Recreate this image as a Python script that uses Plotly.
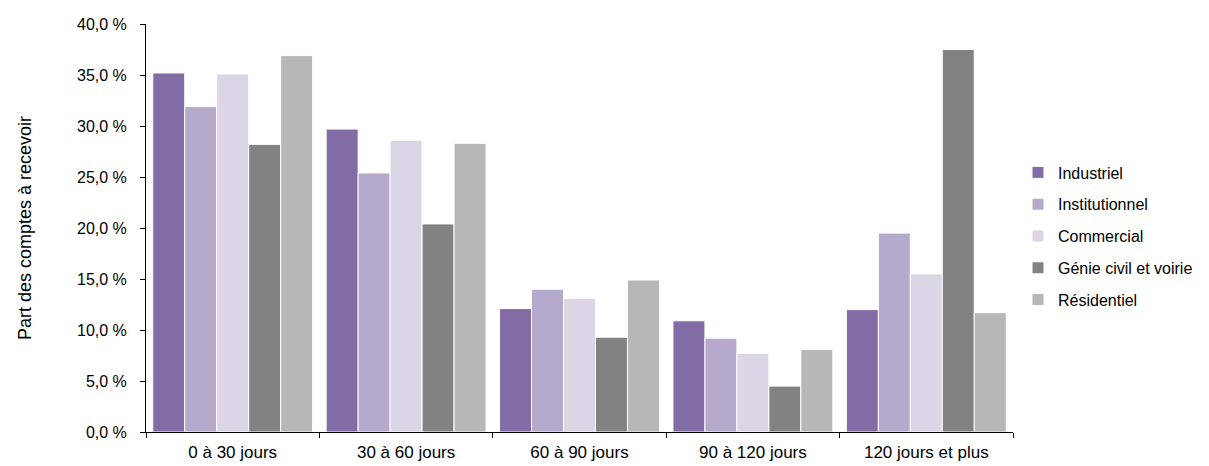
import plotly.graph_objects as go

categories = ["0 à 30 jours", "30 à 60 jours", "60 à 90 jours", "90 à 120 jours", "120 jours et plus"]
series_names = ["Industriel", "Institutionnel", "Commercial", "Génie civil et voirie", "Résidentiel"]
industriel = [35.2, 29.7, 12.1, 10.9, 12.0]
institutionnel = [31.9, 25.4, 14.0, 9.2, 19.5]
commercial = [35.1, 28.6, 13.1, 7.7, 15.5]
genie_civil = [28.2, 20.4, 9.3, 4.5, 37.5]
residentiel = [36.9, 28.3, 14.9, 8.1, 11.7]
colors = ["#826ca5", "#b5aacb", "#dcd5e6", "#828282", "#b7b7b7"]

values = [industriel, institutionnel, commercial, genie_civil, residentiel]

fig = go.Figure()
for name, vals, col in zip(series_names, values, colors):
    fig.add_trace(go.Bar(
        x=categories, y=vals, name=name, legendgroup=name,
        marker=dict(color=col, line=dict(color="white", width=1)),
    ))

W, H = 1201, 458  # page adds an 8px body margin
font_family = "Liberation Sans, Arial, sans-serif"
fig.update_layout(
    width=W, height=H,
    margin=dict(l=138, r=196, t=16, b=34, autoexpand=False),
    paper_bgcolor="white", plot_bgcolor="white",
    barmode="group", bargap=0.078, bargroupgap=0,
    separators=", ",
    font=dict(family=font_family, size=16, color="#000000"),
    showlegend=True,
    legend=dict(
        xref="container", yref="container",
        x=(1050 - 40) / W, xanchor="left",
        y=1 - 228 / H, yanchor="middle",
        font=dict(size=16, family=font_family),
        traceorder="grouped", tracegroupgap=8,
        itemwidth=30, bgcolor="rgba(0,0,0,0)",
    ),
    xaxis=dict(
        automargin=False,
        showline=True, linecolor="#000000", linewidth=1,
        ticks="outside", tickson="boundaries", ticklen=5, tickcolor="#000000",
        tickfont=dict(size=17), showgrid=False, ticklabelstandoff=5,
    ),
    yaxis=dict(
        automargin=False,
        range=[0, 40], dtick=5, tickformat=".1f", ticksuffix=" %",
        showline=True, linecolor="#000000", linewidth=1,
        ticks="outside", ticklen=5, tickcolor="#000000",
        showgrid=False, zeroline=False, ticklabelstandoff=10,
        tickfont=dict(size=16),
        title=dict(text="Part des comptes à recevoir", font=dict(size=18), standoff=40),
    ),
)

fig.write_html("out.html")
